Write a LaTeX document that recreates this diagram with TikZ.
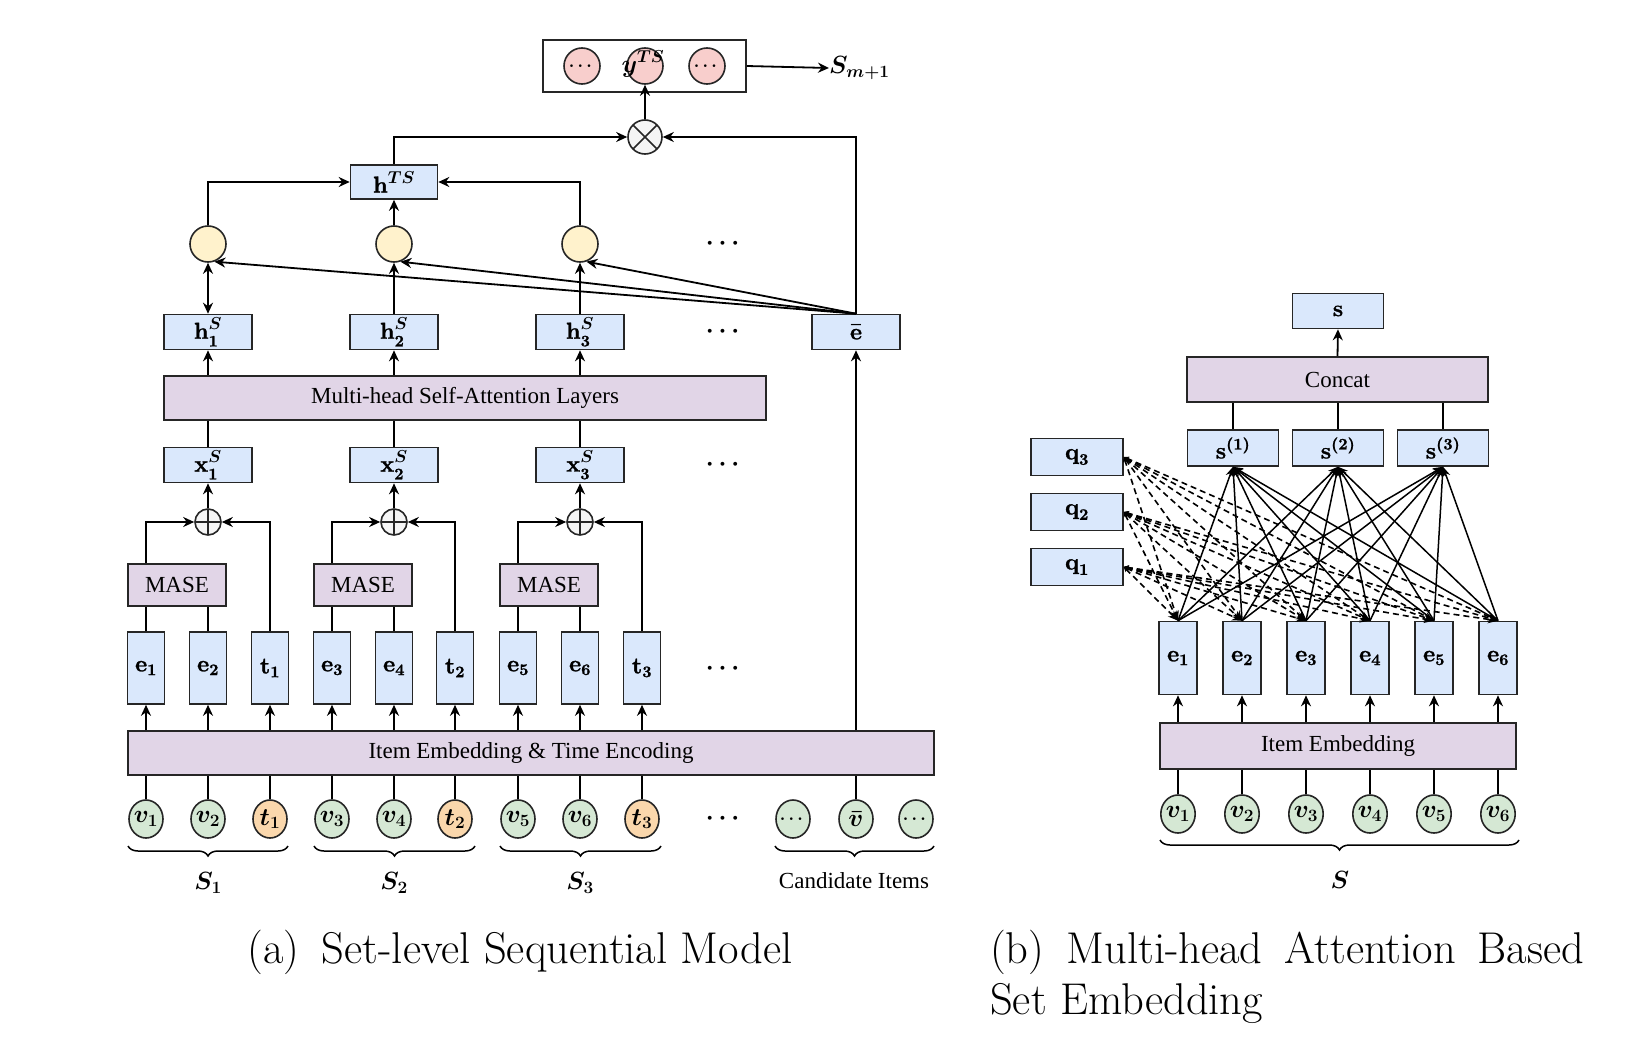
\documentclass[tikz,border=0pt]{standalone}
\usepackage{amsmath}
\usepackage[no-math]{fontspec}
\newfontfamily\tnr{Liberation Serif}
\newfontface\heavy{lmroman10-bold.otf}[FakeBold=1.2]
\usetikzlibrary{arrows.meta,decorations.pathreplacing,shapes.geometric}
\definecolor{bluef}{HTML}{DAE8FC}
\definecolor{purf}{HTML}{E1D5E7}
\definecolor{yelf}{HTML}{FFF2CC}
\definecolor{grnf}{HTML}{D5E8D4}
\definecolor{orf}{HTML}{FAD7AC}
\definecolor{pnkf}{HTML}{F8CECC}
\definecolor{gryf}{HTML}{F5F5F5}
\newcommand\mymath{\fontsize{23}{27}\selectfont\boldmath}
\newcommand\mytxt{\tnr\fontsize{23}{27}\selectfont}
\newcommand\hv[1]{\text{\heavy #1}}
\tikzset{
 ln/.style={line width=1.8pt, draw=black},
 arr/.style={ln, -{Stealth[length=11pt,width=10pt]}},
 bx/.style={draw=black!85, line width=1.6pt, fill=bluef, inner sep=0pt, minimum width=88pt, minimum height=35pt, font=\mymath},
 tallbx/.style={bx, minimum width=37pt, minimum height=72pt},
 lay/.style={draw=black!85, line width=1.6pt, fill=purf, inner sep=0pt, font=\mytxt},
 cir/.style={circle, draw=black!85, line width=1.6pt, inner sep=0pt, minimum size=36pt, font=\mymath},
 vcir/.style={ellipse, draw=black!85, line width=1.6pt, inner sep=0pt, minimum width=34pt, minimum height=38pt, font=\mymath},
 opl/.style={circle, draw=black!85, line width=1.6pt, fill=gryf, inner sep=0pt, minimum size=26pt,
   path picture={\draw[line width=1.6pt] (path picture bounding box.north) -- (path picture bounding box.south)
     (path picture bounding box.west) -- (path picture bounding box.east);}},
 otm/.style={circle, draw=black!85, line width=1.6pt, fill=gryf, inner sep=0pt, minimum size=34pt,
   path picture={\draw[line width=1.6pt] (path picture bounding box.north west) -- (path picture bounding box.south east)
     (path picture bounding box.south west) -- (path picture bounding box.north east);}},
 brc/.style={decorate, decoration={brace, mirror, amplitude=10pt}, line width=1.5pt},
 dashar/.style={line width=1.6pt, dash pattern=on 6pt off 4pt, {Stealth[length=5pt,width=5pt]}-{Stealth[length=10pt,width=8pt]}},
 thinar/.style={line width=1.5pt, -{Stealth[length=10pt,width=8pt]}},
 dotsn/.style={font=\mymath, inner sep=0pt},
 cdotsn/.style={font=\fontsize{17}{20}\selectfont\boldmath, inner sep=0pt},
 capf/.style={font=\fontsize{44.5}{50}\selectfont, inner sep=0pt},
}
\begin{document}
\begin{tikzpicture}[x=1pt,y=-1pt]
\useasboundingbox (0,0) rectangle (1647,1041);

% ================= LEFT (a) =================
\node[lay, minimum width=806pt, minimum height=44pt] (ie) at (531,753) {Item Embedding \& Time Encoding};

\foreach \k/\cx/\ca/\cb/\ct in {1/208/146/208/270, 2/394/332/394/455, 3/580/518/580/642} {
  \node[tallbx] (ga\k) at (\ca,668) {};
  \node[tallbx] (gb\k) at (\cb,668) {};
  \node[tallbx] (gt\k) at (\ct,668) {$\hv{t}_{\hv{\k}}$};
  \node[vcir, fill=grnf] (va\k) at (\ca,819) {};
  \node[vcir, fill=grnf] (vb\k) at (\cb,819) {};
  \node[vcir, fill=orf] (vt\k) at (\ct,819) {$t_{\k}$};
  \node[lay, minimum width=98pt, minimum height=42pt] (mase\k) at (\cx-31,585) {MASE};
  \node[opl] (op\k) at (\cx,522) {};
  \node[bx] (x\k) at (\cx,465) {$\hv{x}^{S}_{\hv{\k}}$};
  \node[bx] (h\k) at (\cx,332) {$\hv{h}^{S}_{\hv{\k}}$};
  \node[cir, fill=yelf] (y\k) at (\cx,244) {};
}
\node[font=\mymath] (le1) at (ga1) {$\hv{e}_{\hv{1}}$};
\node[font=\mymath] (le2) at (gb1) {$\hv{e}_{\hv{2}}$};
\node[font=\mymath] (le3) at (ga2) {$\hv{e}_{\hv{3}}$};
\node[font=\mymath] (le4) at (gb2) {$\hv{e}_{\hv{4}}$};
\node[font=\mymath] (le5) at (ga3) {$\hv{e}_{\hv{5}}$};
\node[font=\mymath] (le6) at (gb3) {$\hv{e}_{\hv{6}}$};
\node[font=\mymath] (lv1) at (va1) {$v_1$};
\node[font=\mymath] (lv2) at (vb1) {$v_2$};
\node[font=\mymath] (lv3) at (va2) {$v_3$};
\node[font=\mymath] (lv4) at (vb2) {$v_4$};
\node[font=\mymath] (lv5) at (va3) {$v_5$};
\node[font=\mymath] (lv6) at (vb3) {$v_6$};

\node[lay, minimum width=602pt, minimum height=44pt] (msa) at (465,398) {Multi-head Self-Attention Layers};

\node[vcir, fill=grnf] (cd1) at (793,819) {};
\node[vcir, fill=grnf] (vbar) at (856,819) {$\bar{v}$};
\node[vcir, fill=grnf] (cd2) at (916,819) {};
\node[cdotsn] (cd1l) at (cd1) {$\cdots$};
\node[cdotsn] (cd2l) at (cd2) {$\cdots$};
\node[bx] (eb) at (856,332) {$\bar{\hv{e}}$};

\node[bx, minimum width=87pt, minimum height=34pt] (hts) at (394,182) {$\hv{h}^{TS}$};
\node[otm] (ot) at (645,137) {};
\node[draw=black!85, line width=1.6pt, minimum width=203pt, minimum height=52pt, inner sep=0pt] (out) at (644.5,66) {};
\node[cir, fill=pnkf] (p1) at (582,66) {};
\node[cir, fill=pnkf] (p2) at (645,66) {};
\node[cir, fill=pnkf] (p3) at (707,66) {};
\node[cdotsn] (p1l) at (p1) {$\cdots$};
\node[cdotsn] (p3l) at (p3) {$\cdots$};
\node[font=\fontsize{25}{29}\selectfont\boldmath, inner sep=0pt] (yts) at (643,64) {$y^{TS}$};
\node[font=\fontsize{24}{28}\selectfont\boldmath, anchor=west, inner sep=0pt] (sm) at (829,68) {$S_{m+1}$};

\node[dotsn] (d1) at (725,244) {$\cdots$};
\node[dotsn] (d2) at (725,332) {$\cdots$};
\node[dotsn] (d3) at (725,465) {$\cdots$};
\node[dotsn] (d4) at (725,669) {$\cdots$};
\node[dotsn] (d5) at (725,819) {$\cdots$};

\foreach \k in {1,2,3} {
  \foreach \n in {a,b,t} {
    \draw[ln] (v\n\k.north) -- (v\n\k.north |- ie.south);
    \draw[arr] (g\n\k.south |- ie.north) -- (g\n\k.south);
  }
  \draw[ln] (ga\k.north) -- (ga\k.north |- mase\k.south);
  \draw[ln] (gb\k.north) -- (gb\k.north |- mase\k.south);
  \draw[arr] (ga\k.north |- mase\k.north) |- (op\k.west);
  \draw[arr] (gt\k.north) |- (op\k.east);
  \draw[arr] (op\k.north) -- (x\k.south);
  \draw[ln] (x\k.north) -- (x\k.north |- msa.south);
  \draw[arr] (h\k.south |- msa.north) -- (h\k.south);
  \draw[arr] (eb.north) -- (y\k.-70);
}
\draw[ln, {Stealth[length=11pt,width=10pt]}-{Stealth[length=11pt,width=10pt]}] (h1.north) -- (y1.south);
\draw[arr] (h2.north) -- (y2.south);
\draw[arr] (h3.north) -- (y3.south);
\draw[arr] (y1.north) |- (hts.west);
\draw[arr] (y3.north) |- (hts.east);
\draw[arr] (y2.north) -- (hts.south);
\draw[arr] (hts.north) |- (ot.west);
\draw[arr] (eb.north) |- (ot.east);
\draw[arr] (ot.north) -- (p2.south);
\draw[arr] (out.east) -- (sm.west);
\draw[ln] (vbar.north) -- (vbar.north |- ie.south);
\draw[arr] (eb.south |- ie.north) -- (eb.south);

\draw[brc] (128,846) -- (288,846) coordinate (br1);
\draw[brc] (314,846) -- (475,846) coordinate (br2);
\draw[brc] (500,846) -- (661,846) coordinate (br3);
\draw[brc] (775,846) -- (934,846) coordinate (br4);
\node[font=\fontsize{23}{27}\selectfont\boldmath] (s1) at (208,883) {$S_1$};
\node[font=\fontsize{23}{27}\selectfont\boldmath] (s2) at (394,883) {$S_2$};
\node[font=\fontsize{23}{27}\selectfont\boldmath] (s3) at (580,883) {$S_3$};
\node[font=\mytxt] (cand) at (854,881) {Candidate Items};

% ================= RIGHT (b) =================
\node[bx, minimum width=91pt] (s) at (1338,311) {$\hv{s}$};
\node[lay, minimum width=301pt, minimum height=45pt] (cc) at (1337.5,379.5) {Concat};
\foreach \k/\x in {1/1233, 2/1338, 3/1443}
  \node[bx, minimum width=91pt, minimum height=36pt] (sk\k) at (\x,448) {$\hv{s}^{\hv{(\k)}}$};
\foreach \j/\y in {3/457, 2/512, 1/567}
  \node[bx, minimum width=92pt, minimum height=37pt] (q\j) at (1077,\y) {$\hv{q}_{\hv{\j}}$};
\node[lay, minimum width=356pt, minimum height=46pt] (ie2) at (1338,746) {Item Embedding};
\foreach \i/\x in {1/1178, 2/1242, 3/1306, 4/1370, 5/1434, 6/1498} {
  \node[tallbx, minimum width=38pt, minimum height=73pt] (re\i) at (\x,658) {$\hv{e}_{\hv{\i}}$};
  \node[vcir, fill=grnf] (rv\i) at (\x,814) {$v_{\i}$};
  \draw[ln] (rv\i.north) -- (rv\i.north |- ie2.south);
  \draw[arr] (re\i.south |- ie2.north) -- (re\i.south);
}
\draw[arr] (cc.north) -- (s.south);
\foreach \k in {1,2,3} \draw[ln] (sk\k.north) -- (sk\k.north |- cc.south);
\foreach \j in {1,2,3}
  \foreach \i in {1,...,6}
    \draw[dashar] (q\j.east) -- (re\i.north);
\foreach \k in {1,2,3}
  \foreach \i in {1,...,6}
    \draw[thinar] (re\i.north) -- (sk\k.south);
\draw[brc] (1160,840) -- (1519,840) coordinate (br5);
\node[font=\fontsize{29}{33}\selectfont\boldmath] (sS) at (1340,880) {$S$};

\node[capf] (capa) at (520,952) {(a)\enspace Set-level Sequential Model};
\node[capf, anchor=west] (capb1) at (990,952) {\makebox[594pt][s]{(b)\enspace Multi-head Attention Based}};
\node[capf, anchor=west] (capb2) at (990,1003) {Set Embedding};
\end{tikzpicture}
\end{document}
